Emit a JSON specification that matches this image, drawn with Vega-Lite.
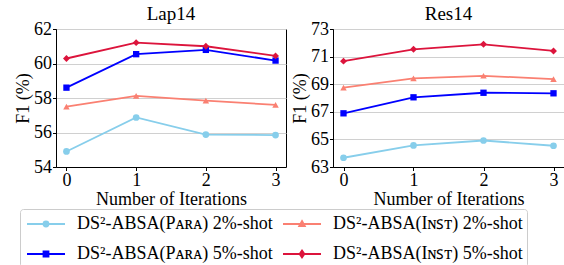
{
  "$schema": "https://vega.github.io/schema/vega-lite/v6.json",
  "padding": {"left": 14, "top": 4, "right": 0, "bottom": 0},
  "spacing": 4,
  "data": {"values": [
    {"d": "Lap14", "it": 0, "f1": 54.9, "s": "P2"},
    {"d": "Lap14", "it": 1, "f1": 56.87, "s": "P2"},
    {"d": "Lap14", "it": 2, "f1": 55.88, "s": "P2"},
    {"d": "Lap14", "it": 3, "f1": 55.85, "s": "P2"},
    {"d": "Lap14", "it": 0, "f1": 57.5, "s": "I2"},
    {"d": "Lap14", "it": 1, "f1": 58.12, "s": "I2"},
    {"d": "Lap14", "it": 2, "f1": 57.85, "s": "I2"},
    {"d": "Lap14", "it": 3, "f1": 57.6, "s": "I2"},
    {"d": "Lap14", "it": 0, "f1": 58.6, "s": "P5"},
    {"d": "Lap14", "it": 1, "f1": 60.54, "s": "P5"},
    {"d": "Lap14", "it": 2, "f1": 60.79, "s": "P5"},
    {"d": "Lap14", "it": 3, "f1": 60.17, "s": "P5"},
    {"d": "Lap14", "it": 0, "f1": 60.29, "s": "I5"},
    {"d": "Lap14", "it": 1, "f1": 61.21, "s": "I5"},
    {"d": "Lap14", "it": 2, "f1": 61.0, "s": "I5"},
    {"d": "Lap14", "it": 3, "f1": 60.44, "s": "I5"},
    {"d": "Res14", "it": 0, "f1": 63.67, "s": "P2"},
    {"d": "Res14", "it": 1, "f1": 64.56, "s": "P2"},
    {"d": "Res14", "it": 2, "f1": 64.92, "s": "P2"},
    {"d": "Res14", "it": 3, "f1": 64.54, "s": "P2"},
    {"d": "Res14", "it": 0, "f1": 68.75, "s": "I2"},
    {"d": "Res14", "it": 1, "f1": 69.42, "s": "I2"},
    {"d": "Res14", "it": 2, "f1": 69.61, "s": "I2"},
    {"d": "Res14", "it": 3, "f1": 69.37, "s": "I2"},
    {"d": "Res14", "it": 0, "f1": 66.89, "s": "P5"},
    {"d": "Res14", "it": 1, "f1": 68.05, "s": "P5"},
    {"d": "Res14", "it": 2, "f1": 68.38, "s": "P5"},
    {"d": "Res14", "it": 3, "f1": 68.34, "s": "P5"},
    {"d": "Res14", "it": 0, "f1": 70.67, "s": "I5"},
    {"d": "Res14", "it": 1, "f1": 71.53, "s": "I5"},
    {"d": "Res14", "it": 2, "f1": 71.89, "s": "I5"},
    {"d": "Res14", "it": 3, "f1": 71.41, "s": "I5"}
  ]},
  "config": {
    "font": "'Liberation Serif', 'Times New Roman', serif",
    "view": {"stroke": "black", "strokeWidth": 1},
    "title": {"font": "'Liberation Serif', 'Times New Roman', serif", "fontSize": 19, "fontWeight": "normal", "color": "black", "offset": -4},
    "axis": {
      "labelFont": "'Liberation Serif', 'Times New Roman', serif", "labelFontSize": 18, "labelColor": "black", "labelOverlap": false,
      "titleFont": "'Liberation Serif', 'Times New Roman', serif", "titleFontSize": 18, "titleFontWeight": "normal", "titleColor": "black",
      "domainColor": "black", "domainWidth": 1, "tickColor": "black", "tickSize": 3.5, "labelPadding": 1,
      "gridColor": "#d0d0d0", "gridWidth": 1
    },
    "axisX": {"grid": false, "titlePadding": 1},
    "axisY": {"grid": true, "titlePadding": 1},
    "legend": {"labelFont": "'Liberation Serif', 'Times New Roman', serif", "labelFontSize": 18, "labelColor": "black", "labelLimit": 0}
  },
  "hconcat": [
    {
      "width": 230, "height": 138,
      "title": "Lap14",
      "transform": [{"filter": "datum.d === 'Lap14'"}],
      "encoding": {
        "x": {"field": "it", "type": "quantitative", "scale": {"domain": [-0.15, 3.15], "nice": false}, "axis": {"values": [0, 1, 2, 3], "format": "d", "title": "Number of Iterations"}},
        "y": {"field": "f1", "type": "quantitative", "scale": {"domain": [54, 62], "nice": false, "zero": false}, "axis": {"values": [54, 56, 58, 60, 62], "title": "F1 (%)"}}
      },
      "layer": [
        {
          "mark": {"type": "line", "strokeWidth": 1.8},
          "encoding": {
            "color": {
              "field": "s", "type": "nominal",
              "scale": {"domain": ["P2", "I2", "P5", "I5"], "range": ["#87ceeb", "#fa8072", "#0000ff", "#dc143c"]},
              "legend": {
                "title": null, "orient": "none", "legendX": -36, "legendY": 180,
                "direction": "horizontal", "columns": 2, "columnPadding": 6, "rowPadding": 10,
                "padding": 4, "strokeColor": "#cccccc", "fillColor": "white", "cornerRadius": 3,
                "symbolSize": 400, "symbolOffset": 11, "labelOffset": 20, "symbolStrokeWidth": 1.8, "symbolOpacity": 1,
                "labelExpr": "datum.value === 'P2' ? 'DS²-ABSA(Pᴀʀᴀ) 2%-shot' : datum.value === 'I2' ? 'DS²-ABSA(Iɴꜱᴛ) 2%-shot' : datum.value === 'P5' ? 'DS²-ABSA(Pᴀʀᴀ) 5%-shot' : 'DS²-ABSA(Iɴꜱᴛ) 5%-shot'"
              }
            }
          }
        },
        {
          "mark": {"type": "point", "filled": false, "size": 0, "opacity": 1, "strokeWidth": 1.8},
          "encoding": {
            "color": {"field": "s", "type": "nominal", "legend": null},
            "shape": {
              "field": "s", "type": "nominal", "legend": null,
              "scale": {"domain": ["P2", "I2", "P5", "I5"], "range": [
                "M-1.9,0H1.9M0.25,0A0.25,0.25 0 1,1 -0.25,0A0.25,0.25 0 1,1 0.25,0ZM0.1,0A0.1,0.1 0 1,1 -0.1,0A0.1,0.1 0 1,1 0.1,0Z",
                "M-1.9,0H1.9M0,-0.3L0.28,0.2L-0.28,0.2ZM0,-0.08L0.08,0.08L-0.08,0.08Z",
                "M-1.9,0H1.9M-0.25,-0.25H0.25V0.25H-0.25ZM-0.08,-0.08H0.08V0.08H-0.08Z",
                "M-1.9,0H1.9M0,-0.35L0.24,0L0,0.35L-0.24,0ZM0,-0.12L0.08,0L0,0.12L-0.08,0Z"
              ]}
            }
          }
        },
        {"transform": [{"filter": "datum.s === 'P2'"}], "mark": {"type": "point", "shape": "circle", "filled": true, "size": 45, "opacity": 1, "color": "#87ceeb"}, "encoding": {}},
        {"transform": [{"filter": "datum.s === 'I2'"}], "mark": {"type": "point", "shape": "triangle-up", "filled": true, "size": 42, "opacity": 1, "color": "#fa8072"}, "encoding": {}},
        {"transform": [{"filter": "datum.s === 'P5'"}], "mark": {"type": "point", "shape": "square", "filled": true, "size": 40, "opacity": 1, "color": "#0000ff"}, "encoding": {}},
        {"transform": [{"filter": "datum.s === 'I5'"}], "mark": {"type": "point", "shape": "diamond", "filled": true, "size": 48, "opacity": 1, "color": "#dc143c"}, "encoding": {}}
      ]
    },
    {
      "width": 231, "height": 138,
      "title": "Res14",
      "transform": [{"filter": "datum.d === 'Res14'"}],
      "encoding": {
        "x": {"field": "it", "type": "quantitative", "scale": {"domain": [-0.15, 3.15], "nice": false}, "axis": {"values": [0, 1, 2, 3], "format": "d", "title": "Number of Iterations"}},
        "y": {"field": "f1", "type": "quantitative", "scale": {"domain": [63, 73], "nice": false, "zero": false}, "axis": {"values": [63, 65, 67, 69, 71, 73], "title": "F1 (%)"}}
      },
      "layer": [
        {
          "mark": {"type": "line", "strokeWidth": 1.8},
          "encoding": {
            "color": {"field": "s", "type": "nominal", "legend": null}
          }
        },
        {"transform": [{"filter": "datum.s === 'P2'"}], "mark": {"type": "point", "shape": "circle", "filled": true, "size": 45, "opacity": 1, "color": "#87ceeb"}, "encoding": {}},
        {"transform": [{"filter": "datum.s === 'I2'"}], "mark": {"type": "point", "shape": "triangle-up", "filled": true, "size": 42, "opacity": 1, "color": "#fa8072"}, "encoding": {}},
        {"transform": [{"filter": "datum.s === 'P5'"}], "mark": {"type": "point", "shape": "square", "filled": true, "size": 40, "opacity": 1, "color": "#0000ff"}, "encoding": {}},
        {"transform": [{"filter": "datum.s === 'I5'"}], "mark": {"type": "point", "shape": "diamond", "filled": true, "size": 48, "opacity": 1, "color": "#dc143c"}, "encoding": {}}
      ]
    }
  ]
}
